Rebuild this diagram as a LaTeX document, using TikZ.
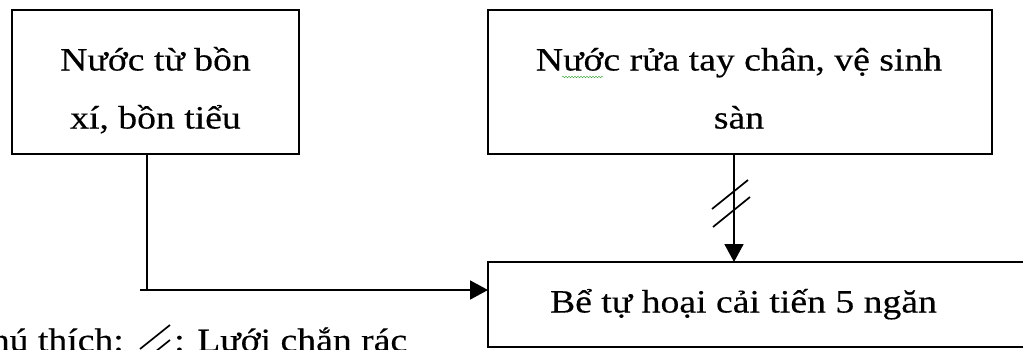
\documentclass[tikz,border=0pt]{standalone}
\usepackage{fontspec}
\setmainfont{Liberation Serif}[FakeStretch=1.16, FakeBold=0.35]
\usetikzlibrary{arrows.meta,decorations.pathmorphing}

\tikzset{
  box/.style={draw, line width=2pt, inner sep=0pt, outer sep=0pt},
  label/.style={anchor=base, inner sep=0pt, font=\fontsize{32.5}{58}\selectfont},
  flow/.style={line width=1.8pt},
  arrowflow/.style={flow, -{Triangle[length=18pt,width=19pt]}},
  screen/.style={line width=1.7pt},
}

\begin{document}
\begin{tikzpicture}[x=1pt,y=-1pt]
  \useasboundingbox (0,0) rectangle (1023,349);
  \clip (0,0) rectangle (1023,349);

  % source boxes
  \node[box, minimum width=287pt, minimum height=144pt] (b1) at (155.5,82) {};
  \node[box, minimum width=504pt, minimum height=144pt] (b2) at (740,82) {};
  % septic tank
  \node[box, minimum width=542pt, minimum height=85pt] (b3) at (759,304.5) {};

  \node[label] (t1a) at (155.5,70.5) {Nước từ bồn};
  \node[label] (t1b) at (155.5,128.5) {xí, bồn tiểu};
  \node[label] (t2a) at (739,70.5) {Nước rửa tay chân, vệ sinh};
  \node[label] (t2b) at (739,128.5) {sàn};
  \node[label] (t3) at (743.5,312.5) {Bể tự hoại cải tiến 5 ngăn};

  % spell-check underline
  \draw[green!55!black!70, line width=0.5pt, decorate,
        decoration={snake, amplitude=0.8pt, segment length=3pt}]
        (562,77) -- (603,77);

  % toilet water to the tank
  \coordinate (corner) at (147,290);
  \coordinate (start) at (140,290);
  \draw[flow] ([xshift=-8.5pt]b1.south) -- (corner);
  \draw[arrowflow] (start) -- (corner -| b3.west);

  % washing water through the screen to the tank
  \coordinate (drop) at ([xshift=-6pt]b2.south);
  \draw[arrowflow] (drop) -- (drop |- b3.north);
  \draw[screen] (712,209) -- (748,180);
  \draw[screen] (713,227) -- (750,197);

  % legend
  \node[label, anchor=base east] (leg1) at (124,351) {Chú thích:};
  \draw[screen] (140,349) -- (170,325);
  \draw[screen] (140,364) -- (170,340);
  \node[label, anchor=base west] (leg2) at (174,351) {: Lưới chắn rác};
\end{tikzpicture}
\end{document}
